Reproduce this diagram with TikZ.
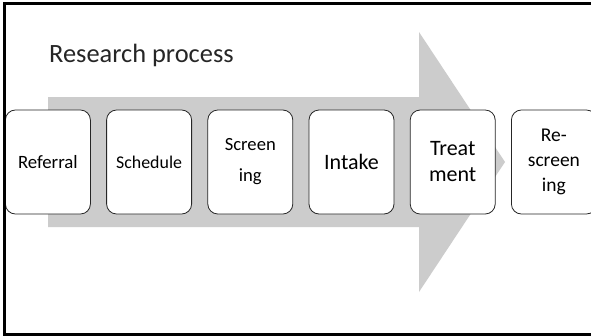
\documentclass[tikz,border=0pt]{standalone}
\usepackage{fontspec}
\setmainfont{Carlito}
\usepackage{tikz}
\usetikzlibrary{positioning}
\usetikzlibrary{calc}

\tikzset{
  stage/.style={draw=black!85, line width=0.8pt, fill=white, rounded corners=10pt,
    minimum width=85pt, minimum height=104pt, inner sep=0pt, align=center, text=black},
  bigarrow/.style={fill=black!20, draw=none},
  frameline/.style={line width=3pt, black}
}

\begin{document}
\begin{tikzpicture}[x=1pt, y=-1pt, node distance=1cm and 15.4pt]
\useasboundingbox (0,0) rectangle (591,335);
\clip (0,0) rectangle (591,335);
\fill[white] (0,0) rectangle (591,335);

\coordinate (a1) at (48,97);
\coordinate (a2) at (419,97);
\coordinate (a3) at (419,32);
\coordinate (tip) at (505,162);
\coordinate (a4) at (419,292);
\coordinate (a5) at (419,227);
\coordinate (a6) at (48,227);
\fill[bigarrow] (a1) -- (a2) -- (a3) -- (tip) -- (a4) -- (a5) -- (a6) -- cycle;

\node[anchor=base west, inner sep=0pt, text=black!85, font=\fontsize{26.4}{30}\selectfont] (title) at (49,62) {Research process};

\node[stage, anchor=west, font=\fontsize{18.8}{23}\selectfont] (referral) at (5,162) {Referral};
\node[stage, right=of referral, font=\fontsize{17.9}{22}\selectfont] (schedule) {Schedule};
\node[stage, right=of schedule, font=\fontsize{18.6}{31}\selectfont] (screening) {Screen\\ing};
\node[stage, right=of screening, font=\fontsize{22}{27}\selectfont] (intake) {Intake};
\node[stage, right=of intake, font=\fontsize{22}{26}\selectfont] (treatment) {Treat\\ment};
\node[stage, right=of treatment, font=\fontsize{19.5}{25}\selectfont] (rescreening) {Re-\\screen\\ing};

\coordinate (f1) at (591,3.5);
\coordinate (f2) at (4.5,3.5);
\coordinate (f3) at (4.5,334);
\coordinate (f4) at (591,334);
\draw[frameline] (f1) -- (f2) -- (f3) -- (f4);
\end{tikzpicture}
\end{document}
